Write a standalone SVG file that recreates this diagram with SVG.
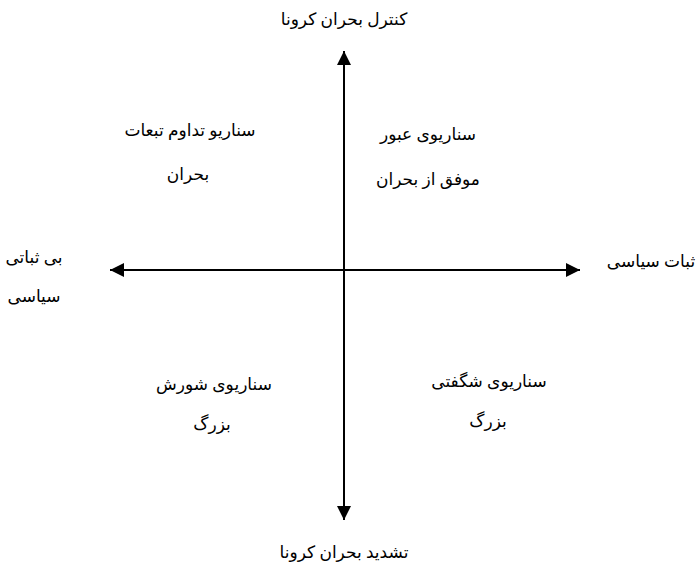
<svg xmlns="http://www.w3.org/2000/svg" width="697" height="567" viewBox="0 0 697 567">
<style>
text{font-family:"Liberation Serif","DejaVu Sans",serif;font-size:17px;fill:#000;text-anchor:middle}
.ax{stroke:#000;stroke-width:2;fill:none}
</style>
<defs>
<marker id="ah" viewBox="0 0 10 10" refX="10" refY="5" markerWidth="7" markerHeight="7" orient="auto" markerUnits="strokeWidth">
<path d="M0,0 L10,5 L0,10 z" fill="#000"/>
</marker>
</defs>
<rect width="697" height="567" fill="#fff"/>
<g id="connectors">
<line class="ax" x1="344" y1="270" x2="344" y2="51" marker-end="url(#ah)"/>
<line class="ax" x1="344" y1="270" x2="344" y2="520" marker-end="url(#ah)"/>
<line class="ax" x1="344" y1="270" x2="110" y2="270" marker-end="url(#ah)"/>
<line class="ax" x1="344" y1="270" x2="580" y2="270" marker-end="url(#ah)"/>
</g>
<g id="top"><text x="344" y="25">کنترل بحران کرونا</text></g>
<g id="bottom"><text x="344" y="558">تشدید بحران کرونا</text></g>
<g id="left"><text x="34" y="263">بی ثباتی</text><text x="34" y="302">سیاسی</text></g>
<g id="right"><text x="651" y="267">ثبات سیاسی</text></g>
<g id="q1"><text x="190" y="136">سناریو تداوم تبعات</text><text x="188" y="180">بحران</text></g>
<g id="q2"><text x="428" y="140">سناریوی عبور</text><text x="428" y="185">موفق از بحران</text></g>
<g id="q3"><text x="214" y="390">سناریوی شورش</text><text x="212" y="430">بزرگ</text></g>
<g id="q4"><text x="489" y="387">سناریوی شگفتی</text><text x="488" y="427">بزرگ</text></g>
</svg>
